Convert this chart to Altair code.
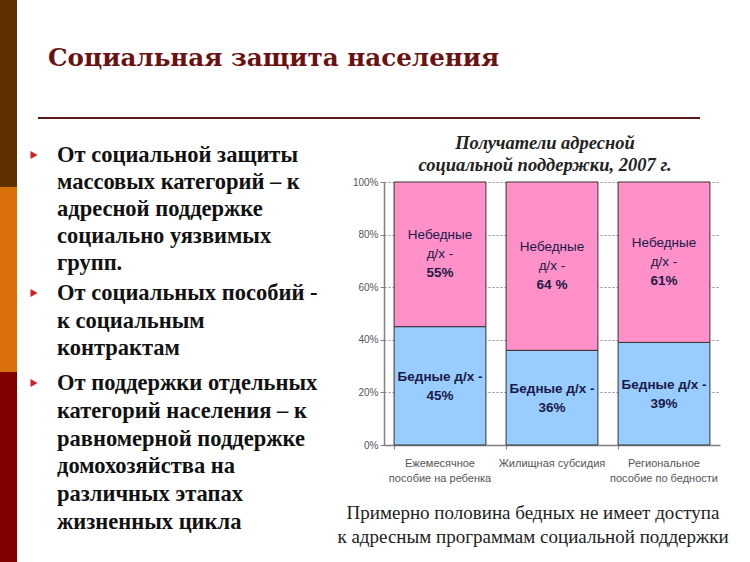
import altair as alt
import pandas as pd

# ---- chart data ----
categories = ["Ежемесячное|пособие на ребенка", "Жилищная субсидия", "Региональное|пособие по бедности"]
poor = [45, 36, 39]
nonpoor = [55, 64, 61]
poor_labels = ["45%", "36%", "39%"]
nonpoor_labels = ["55%", "64 %", "61%"]
groups = ["Бедные д/х", "Небедные д/х"]
y_ticks = [0, 20, 40, 60, 80, 100]

slide_title = "Социальная защита населения"
bullets = [
    "От социальной защиты\nмассовых категорий – к\nадресной поддержке\nсоциально уязвимых\nгрупп.",
    "От социальных пособий -\nк социальным\nконтрактам",
    "От поддержки отдельных\nкатегорий населения – к\nравномерной поддержке\nдомохозяйства на\nразличных этапах\nжизненных цикла",
]
chart_title = "Получатели адресной\nсоциальной поддержки, 2007 г."
footnote = "Примерно половина бедных не имеет доступа\nк адресным программам социальной поддержки"

rows = []
for i, c in enumerate(categories):
    rows.append({"cat": c, "group": groups[0], "order": 0, "value": poor[i], "label": poor_labels[i]})
    rows.append({"cat": c, "group": groups[1], "order": 1, "value": nonpoor[i], "label": nonpoor_labels[i]})
df = pd.DataFrame(rows)
one = pd.DataFrame({"k": [0]})

W, H = 336, 263
OX, OY = 384, 182  # plot origin on the page

xenc = alt.X("cat:N", sort=categories, title=None,
             scale=alt.Scale(paddingInner=0.18, paddingOuter=0.09),
             axis=alt.Axis(labelExpr="split(datum.label, '|')", labelAngle=0,
                           labelFont="Liberation Sans", labelFontSize=11, labelColor="#555555",
                           labelLineHeight=15, labelPadding=8, bandPosition=0,
                           tickSize=4, tickColor="#808080", domainColor="#808080",
                           domainWidth=1.5, grid=False))

base = alt.Chart(df).transform_stack(
    stack="value", groupby=["cat"], sort=[alt.SortField("order")], as_=["v0", "v1"]
).transform_calculate(mid="(datum.v0 + datum.v1) / 2")

yscale = alt.Scale(domain=[0, 100], nice=False)
bars = base.mark_bar(stroke="#333333", strokeWidth=1).encode(
    x=xenc,
    y=alt.Y("v0:Q", scale=yscale, title=None,
            axis=alt.Axis(values=y_ticks, labelExpr="datum.value + '%'",
                          labelFont="Liberation Sans", labelFontSize=10, labelColor="#555555",
                          labelPadding=2, tickSize=4, tickColor="#808080",
                          domainColor="#808080", domainWidth=1.5,
                          grid=True, gridColor="#888888", gridDash=[2, 2], gridWidth=1)),
    y2="v1:Q",
    color=alt.Color("group:N", scale=alt.Scale(domain=groups, range=["#99CCFF", "#FF90C8"]), legend=None),
)

lab_font = dict(font="Liberation Sans", fontSize=13.5, color="#1A1A48", align="center", baseline="middle")

def seg_text(group, txt, dy, bold=False):
    enc = dict(x=alt.X("cat:N", sort=categories), y=alt.Y("mid:Q", scale=yscale), yOffset=alt.value(dy))
    m = base.transform_filter(alt.datum.group == group).mark_text(
        fontWeight="bold" if bold else "normal", **lab_font)
    if txt is None:
        return m.encode(text="label:N", **enc)
    return m.encode(text=alt.value(txt), **enc)

labels = [
    seg_text(groups[1], "Небедные", -19),
    seg_text(groups[1], "д/х -", 0),
    seg_text(groups[1], None, 19, bold=True),
    seg_text(groups[0], "Бедные д/х -", -9, bold=True),
    seg_text(groups[0], None, 10, bold=True),
]

def deco_rect(x0, x1, y0, y1, color):
    return alt.Chart(one).mark_rect(color=color).encode(
        x=alt.value(x0 - OX), x2=alt.value(x1 - OX), y=alt.value(y0 - OY), y2=alt.value(y1 - OY))

def deco_text(txt, x, y, **kw):
    return alt.Chart(one).mark_text(lineBreak="\n", **kw).encode(
        x=alt.value(x - OX), y=alt.value(y - OY), text=alt.value(txt))

def bullet(y):
    return alt.Chart(one).mark_point(
        shape="triangle-right", filled=True, color="#D42020", size=65, opacity=1).encode(
        x=alt.value(34 - OX), y=alt.value(y - OY))

bullet_font = dict(font="Liberation Serif", fontSize=22.5, fontWeight="bold",
                   color="#111111", align="left", baseline="alphabetic")

decor = [
    deco_rect(0, 17, 0, 187, "#5E3000"),
    deco_rect(0, 17, 187, 372, "#D9700A"),
    deco_rect(0, 17, 372, 562, "#800000"),
    alt.Chart(one).mark_rule(color="#5A1A1A", strokeWidth=2).encode(
        x=alt.value(38 - OX), x2=alt.value(700 - OX), y=alt.value(118 - OY)),
    deco_text(slide_title, 48, 66, font="DejaVu Serif", fontSize=24.6, fontWeight="bold",
              color="#6A1212", align="left", baseline="alphabetic"),
    bullet(155), bullet(293), bullet(383),
    deco_text(bullets[0], 57, 162, lineHeight=27, **bullet_font),
    deco_text(bullets[1], 57, 300, lineHeight=27.5, **bullet_font),
    deco_text(bullets[2], 57, 390, lineHeight=27.8, **bullet_font),
    deco_text(chart_title, 545, 143, font="Liberation Serif", fontSize=18.5, fontWeight="bold",
              fontStyle="italic", color="#222222", align="center", baseline="middle", lineHeight=22),
    deco_text(footnote, 533, 513, font="Liberation Serif", fontSize=19,
              color="#222222", align="center", baseline="middle", lineHeight=24),
]

chart = alt.layer(bars, *labels, *decor).properties(
    width=W, height=H,
    padding={"left": OX, "top": OY, "right": 750 - OX - W, "bottom": 562 - OY - H},
    autosize=alt.AutoSizeParams(type="none"),
    background="white",
).configure_view(stroke=None)

chart.save("out.html", embed_options={"renderer": "svg", "actions": False})
